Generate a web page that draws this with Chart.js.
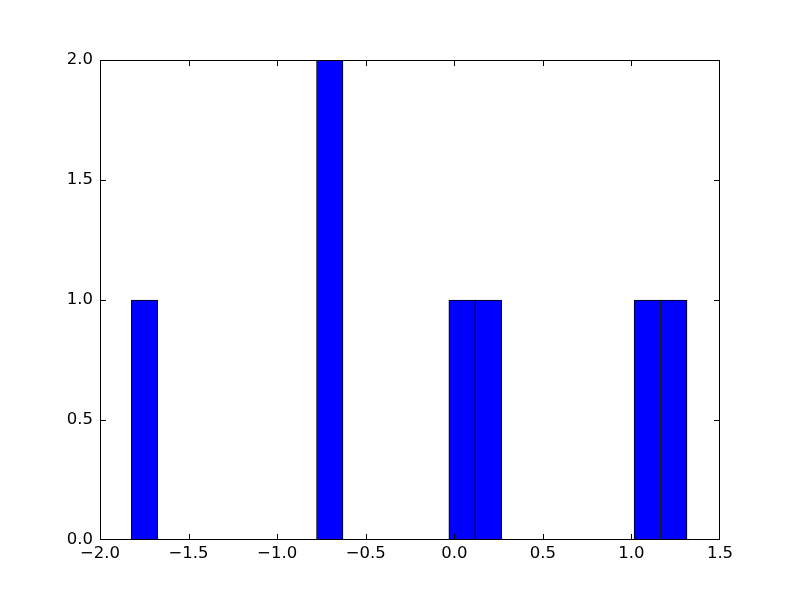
<!DOCTYPE html>
<html>
<head>
<meta charset="utf-8">
<script src="https://cdn.jsdelivr.net/npm/chart.js@4/dist/chart.umd.min.js"></script>
<style>
  html, body { margin: 0; padding: 0; background: #fff; }
  canvas { display: block; }
</style>
</head>
<body>
<canvas id="histChart" width="800" height="600"></canvas>
<script>
// --- Data ---
// histogram: 21 equal bins from binStart, counts
const binStart = -1.8233;
const binWidth = 0.14938;
const counts = [1, 0, 0, 0, 0, 0, 0, 2, 0, 0, 0, 0, 1, 1, 0, 0, 0, 0, 0, 1, 1];
const xTicks = [-2.0, -1.5, -1.0, -0.5, 0.0, 0.5, 1.0, 1.5];
const yTicks = [0.0, 0.5, 1.0, 1.5, 2.0];

const points = counts.map((c, i) => ({ x: binStart + binWidth * (i + 0.5), y: c }));

const tickFont = { family: "'DejaVu Sans'", size: 16.5 };
const fmt = (v) => v.toFixed(1).replace("-", "\u2212");

// frame + inward ticks on all four sides, like matplotlib classic
const framePlugin = {
    id: "frame",
    afterDraw(chart) {
        const { ctx, chartArea: a, scales } = chart;
        const L = Math.round(a.left) + 0.5, R = Math.round(a.right) - 0.5;
        const T = Math.round(a.top) + 0.5, B = Math.round(a.bottom) - 0.5;
        const len = 5.5;
        const clamp = (p, lo, hi) => Math.min(hi, Math.max(lo, p));
        ctx.save();
        ctx.strokeStyle = "#000";
        ctx.lineWidth = 1;
        ctx.beginPath();
        xTicks.forEach((v) => {
            const px = clamp(Math.round(scales.x.getPixelForValue(v)) + 0.5, L, R);
            ctx.moveTo(px, B); ctx.lineTo(px, B - len);
            ctx.moveTo(px, T); ctx.lineTo(px, T + len);
        });
        yTicks.forEach((v) => {
            const py = clamp(Math.round(scales.y.getPixelForValue(v)) + 0.5, T, B);
            ctx.moveTo(L, py); ctx.lineTo(L + len, py);
            ctx.moveTo(R, py); ctx.lineTo(R - len, py);
        });
        ctx.stroke();
        ctx.strokeRect(L, T, R - L, B - T);
        ctx.restore();
    },
};

new Chart(document.getElementById("histChart"), {
    type: "bar",
    data: {
        datasets: [
            {
                data: points,
                backgroundColor: "#0000ff",
                borderColor: "#000000",
                borderWidth: (c) => (c.raw && c.raw.y > 0 ? 1 : 0),
                borderSkipped: false,
                barPercentage: 1.0,
                categoryPercentage: 1.0,
            },
        ],
    },
    options: {
        responsive: false,
        animation: false,
        layout: { padding: { top: 60, right: 80, left: 0, bottom: 0 } },
        plugins: { legend: { display: false }, tooltip: { enabled: false } },
        scales: {
            x: {
                type: "linear",
                offset: false,
                min: -2.0,
                max: 1.5,
                afterFit: (s) => { s.height = 60; },
                afterBuildTicks: (s) => { s.ticks = xTicks.map((v) => ({ value: v })); },
                grid: { display: false, drawTicks: false },
                border: { display: false },
                ticks: {
                    font: tickFont,
                    color: "#000",
                    padding: 4,
                    maxRotation: 0,
                    callback: (v) => fmt(v),
                },
            },
            y: {
                min: 0,
                max: 2.0,
                afterFit: (s) => { s.width = 100; },
                afterBuildTicks: (s) => { s.ticks = yTicks.map((v) => ({ value: v })); },
                grid: { display: false, drawTicks: false },
                border: { display: false },
                ticks: {
                    font: tickFont,
                    color: "#000",
                    padding: 7,
                    callback: (v) => fmt(v),
                },
            },
        },
    },
    plugins: [framePlugin],
});
</script>
</body>
</html>
